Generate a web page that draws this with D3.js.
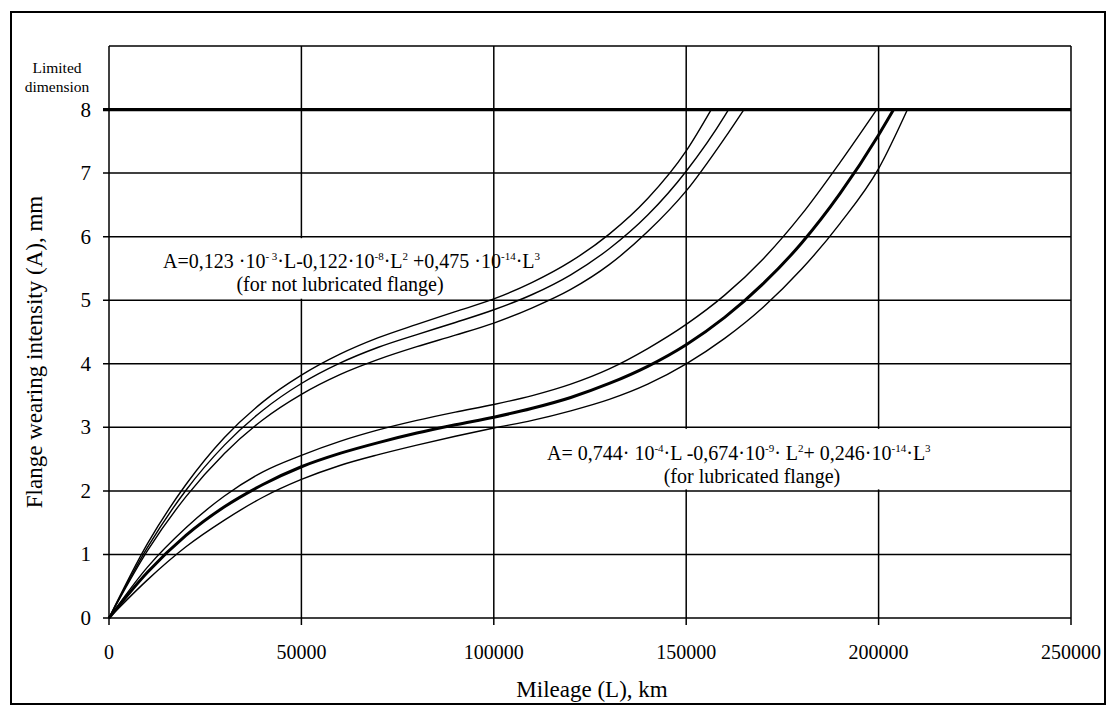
<!DOCTYPE html>
<html>
<head>
<meta charset="utf-8">
<script src="https://cdn.jsdelivr.net/npm/d3@7"></script>
<style>
  body { margin: 0; background: #fff; }
  text { font-family: "Liberation Serif", "DejaVu Serif", serif; fill: #000; }
</style>
</head>
<body>
<script>
// Mileage steps (km) used for reading the curves
const mileage = [0, 10000, 20000, 30000, 40000, 50000, 60000, 70000, 80000, 90000, 100000,
  110000, 120000, 130000, 140000, 150000, 160000, 170000, 180000, 190000, 200000];

// Flange wear (mm), not lubricated flange: upper bound, fit, lower bound
const notLubUpper = [0, 1.17, 2.1, 2.84, 3.40, 3.82, 4.15, 4.41, 4.62, 4.82, 5.02, 5.28, 5.61, 6.04, 6.6, 7.35];
const notLubMid = [0, 1.11, 2.01, 2.72, 3.27, 3.69, 4.01, 4.26, 4.46, 4.65, 4.85, 5.09, 5.40, 5.81, 6.34, 7.03, 7.90];
const notLubLower = [0, 1.06, 1.91, 2.59, 3.12, 3.52, 3.83, 4.07, 4.27, 4.45, 4.64, 4.88, 5.17, 5.56, 6.08, 6.72, 7.55];

// Flange wear (mm), lubricated flange
const lubUpper = [0, 0.8, 1.42, 1.92, 2.3, 2.56, 2.78, 2.96, 3.11, 3.24, 3.36, 3.5, 3.68, 3.92, 4.24, 4.62, 5.08, 5.65, 6.35, 7.17];
const lubMid = [0, 0.72, 1.3, 1.75, 2.1, 2.38, 2.59, 2.76, 2.91, 3.04, 3.16, 3.3, 3.47, 3.69, 3.96, 4.3, 4.73, 5.26, 5.9, 6.68, 7.6];
const lubLower = [0, 0.6, 1.12, 1.54, 1.9, 2.18, 2.4, 2.57, 2.72, 2.86, 2.99, 3.11, 3.26, 3.44, 3.68, 4.0, 4.4, 4.89, 5.49, 6.21, 7.07];

// Mileage where each curve reaches the limited dimension
const limitValue = 8;
const limitReachedAt = [156500, 161000, 165000, 199500, 203900, 207500];

const xTicks = [0, 50000, 100000, 150000, 200000, 250000];
const yTicks = [0, 1, 2, 3, 4, 5, 6, 7, 8];

const width = 1111;
const height = 713;
const margin = { top: 46, right: 40, bottom: 95, left: 109 };

const svg = d3.select("body").append("svg")
    .attr("width", width)
    .attr("height", height)
    .attr("viewBox", [0, 0, width, height]);

// outer frame
svg.append("rect")
    .attr("x", 11).attr("y", 12)
    .attr("width", 1094).attr("height", 692)
    .attr("fill", "none").attr("stroke", "#000").attr("stroke-width", 2);

const x = d3.scaleLinear().domain([0, 250000]).range([margin.left, width - margin.right]);
const y = d3.scaleLinear().domain([0, 9]).range([height - margin.bottom, margin.top]);

// grid
const grid = svg.append("g").attr("stroke", "#000").attr("stroke-width", 1.5);
grid.selectAll(".hg").data(yTicks.filter(d => d !== limitValue)).enter().append("line")
    .attr("x1", x(0) - 6).attr("x2", x(250000))
    .attr("y1", d => y(d)).attr("y2", d => y(d));
grid.selectAll(".vg").data(xTicks).enter().append("line")
    .attr("x1", d => x(d)).attr("x2", d => x(d))
    .attr("y1", y(9)).attr("y2", y(0) + 7);
grid.append("line")
    .attr("x1", x(0)).attr("x2", x(250000))
    .attr("y1", y(9)).attr("y2", y(9));

// limited dimension line
svg.append("line")
    .attr("x1", x(0) - 6).attr("x2", x(250000))
    .attr("y1", y(limitValue)).attr("y2", y(limitValue))
    .attr("stroke", "#000").attr("stroke-width", 3.2);

// tick labels
svg.append("g").selectAll("text").data(xTicks).enter().append("text")
    .attr("x", d => x(d)).attr("y", 659)
    .attr("text-anchor", "middle").attr("font-size", 20)
    .text(d => d);
svg.append("g").selectAll("text").data(yTicks).enter().append("text")
    .attr("x", 91).attr("y", d => y(d) + 7)
    .attr("text-anchor", "end").attr("font-size", 21)
    .text(d => d);

svg.append("text").attr("x", 57).attr("y", 73)
    .attr("text-anchor", "middle").attr("font-size", 15.5).text("Limited");
svg.append("text").attr("x", 57).attr("y", 92)
    .attr("text-anchor", "middle").attr("font-size", 15.5).text("dimension");

// axis titles
svg.append("text").attr("x", 592).attr("y", 697)
    .attr("text-anchor", "middle").attr("font-size", 23)
    .text("Mileage (L), km");
svg.append("text")
    .attr("transform", "translate(42,352) rotate(-90)")
    .attr("text-anchor", "middle").attr("font-size", 23)
    .text("Flange wearing intensity (A), mm");

// curves
const line = d3.line()
    .x(d => x(d[0]))
    .y(d => y(d[1]))
    .curve(d3.curveMonotoneX);

const series = [
  { values: notLubUpper, end: limitReachedAt[0], w: 1.4 },
  { values: notLubMid, end: limitReachedAt[1], w: 1.4 },
  { values: notLubLower, end: limitReachedAt[2], w: 1.4 },
  { values: lubUpper, end: limitReachedAt[3], w: 1.4 },
  { values: lubMid, end: limitReachedAt[4], w: 3 },
  { values: lubLower, end: limitReachedAt[5], w: 1.4 }
];

svg.append("g").selectAll("path").data(series).enter().append("path")
    .attr("d", s => line(s.values.map((v, i) => [mileage[i], v]).concat([[s.end, limitValue]])))
    .attr("fill", "none")
    .attr("stroke", "#000")
    .attr("stroke-width", s => s.w);

// equations with superscripts
function equation(gx, gy, parts) {
  const t = svg.append("text").attr("x", gx).attr("y", gy).attr("font-size", 20);
  let raised = false;
  parts.forEach(p => {
    if (typeof p === "object") {
      t.append("tspan").attr("dy", -8).attr("font-size", 11).text(p.sup);
      raised = true;
    } else {
      t.append("tspan").attr("dy", raised ? 8 : 0).text(p);
      raised = false;
    }
  });
  return t;
}

svg.append("rect").attr("x", 152).attr("y", y(6) + 1.5)
    .attr("width", 320).attr("height", y(5) - y(6) - 3).attr("fill", "#fff");
equation(163, 268, ["A=0,123 ·10", { sup: "- 3" }, "·L-0,122·10", { sup: "-8" }, "·L", { sup: "2" },
  " +0,475 ·10", { sup: "-14" }, "·L", { sup: "3" }]);
svg.append("text").attr("x", 340).attr("y", 291)
    .attr("text-anchor", "middle").attr("font-size", 20)
    .text("(for not lubricated flange)");

svg.append("rect").attr("x", 540).attr("y", y(3) + 1.5)
    .attr("width", 425).attr("height", y(2) - y(3) - 3).attr("fill", "#fff");
equation(547, 460, ["A= 0,744· 10", { sup: "-4" }, "·L -0,674·10", { sup: "-9" }, "· L", { sup: "2" },
  "+ 0,246·10", { sup: "-14" }, "·L", { sup: "3" }]);
svg.append("text").attr("x", 752).attr("y", 483)
    .attr("text-anchor", "middle").attr("font-size", 20)
    .text("(for lubricated flange)");
</script>
</body>
</html>
